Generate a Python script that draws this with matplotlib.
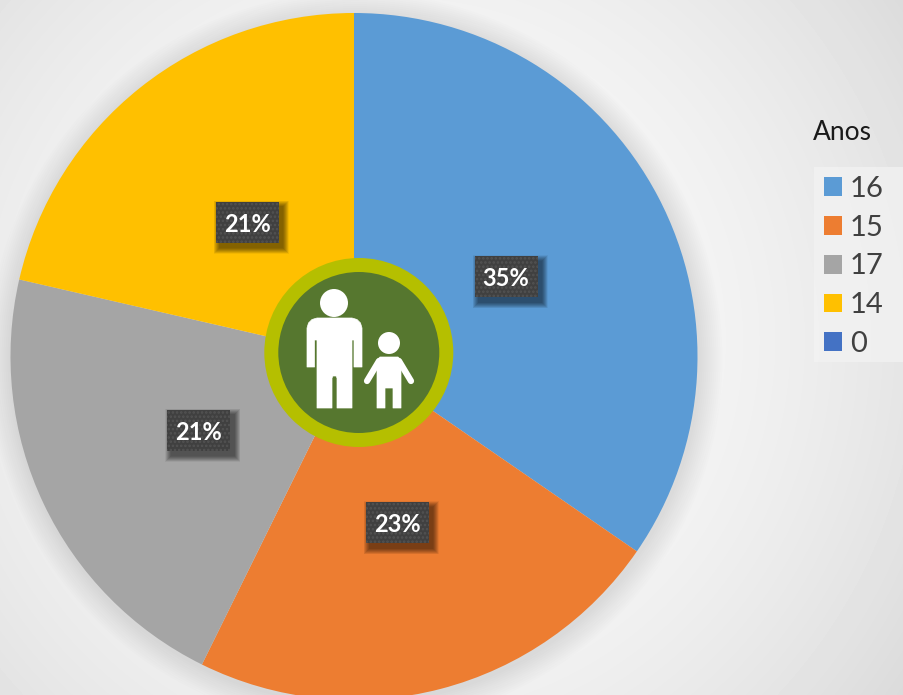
import numpy as np
import matplotlib.pyplot as plt
from matplotlib.patches import Circle, Rectangle, Polygon

plt.rcParams["font.family"] = ["Lato", "DejaVu Sans"]
plt.rcParams["hatch.linewidth"] = 1.2

# dados
anos = ["16", "15", "17", "14", "0"]
valores = [34.6, 22.7, 21.3, 21.4, 0]
cores = ["#5B9BD5", "#ED7D31", "#A5A5A5", "#FFC000", "#4472C4"]

W, H = 904, 695
fig = plt.figure(figsize=(W / 100, H / 100), dpi=100)
ax = fig.add_axes([0, 0, 1, 1])


def py(y):
    # coordenada de pixel (de cima pra baixo) -> eixo
    return H - y


# fundo cinza com gradiente radial
xx, yy = np.meshgrid(np.arange(W), np.arange(H))
dist = np.hypot(xx - 400, yy - 340) / 620
fundo = np.clip(0.985 - 0.13 * dist**2, 0, 1)
ax.imshow(fundo, cmap="gray", vmin=0, vmax=1, extent=(0, W, 0, H), aspect="auto", zorder=0)

# sombra da pizza
cx, cy, raio = 354, py(356.5), 343.5
for d in np.arange(24, 0, -2):
    ax.add_patch(Circle((cx + 1, cy - 3), raio + d, fc="black", ec="none", alpha=0.008, zorder=1))

wedges, _, pct = ax.pie(
    valores,
    colors=cores,
    center=(cx, cy),
    radius=raio,
    startangle=90,
    counterclock=False,
    frame=True,
    autopct=lambda p: f"{p:.0f}%" if p > 0 else "",
    pctdistance=0.5,
    wedgeprops={"zorder": 2},
)

# caixas dos rotulos
bw, bh = 63, 41
for t in pct:
    if not t.get_text():
        continue
    x, y = t.get_position()
    for d in range(12, 0, -1):
        ax.add_patch(Rectangle((x - bw / 2 + 4 - d / 2, y - bh / 2 - 5 - d / 2), bw + d, bh + d,
                               fc="black", ec="none", alpha=0.05, zorder=3))
    ax.add_patch(Rectangle((x - bw / 2, y - bh / 2), bw, bh, fc="#404040", ec="#535353", hatch="....", lw=0, zorder=4))
    t.set(color="white", fontsize=17, fontweight="bold", zorder=5)
    t.set_position((x, y - 2))

# circulo central
ax.add_patch(Circle((358.8, py(352.5)), 94.5, fc="#B5BF00", ec="none", zorder=6))
ax.add_patch(Circle((358.8, py(352.5)), 80.5, fc="#56772F", ec="none", zorder=7))


# icone adulto e crianca
def poly(pts):
    ax.add_patch(Polygon([(a, py(b)) for a, b in pts], fc="white", ec="white", lw=0.5, joinstyle="round", zorder=8))


ax.add_patch(Circle((334, py(303)), 14, fc="white", ec="none", zorder=8))
poly([(317, 318), (352, 318), (357, 319.5), (360.5, 323), (362, 328), (362, 367), (354, 367), (354, 340),
      (352, 340), (352, 408), (337, 408), (337, 378), (336, 376), (333, 376), (332, 378), (332, 408),
      (317, 408), (317, 340), (314.5, 340), (314.5, 367), (307, 367), (307, 328), (308.5, 323), (312, 319.5)])
ax.add_patch(Circle((389, py(343)), 11, fc="white", ec="none", zorder=8))
poly([(380, 357), (398, 357), (401, 360), (401, 408), (393, 408), (393, 388), (385, 388), (385, 408),
      (377, 408), (377, 360)])
ax.plot([379, 367], [py(361), py(381)], color="white", lw=4.5, solid_capstyle="round", zorder=8)
ax.plot([399, 411], [py(361), py(381)], color="white", lw=4.5, solid_capstyle="round", zorder=8)

# legenda
ax.add_patch(Rectangle((814, py(362)), 90, 195, fc="#F3F3F3", ec="none", alpha=0.7, zorder=8))
ax.text(813, py(133), "Anos", fontsize=19, color="#1a1a1a", va="center", ha="left", zorder=9)
leg = ax.legend(
    wedges,
    anos,
    loc="upper left",
    bbox_to_anchor=(815 / W, 1 - 167 / H),
    bbox_transform=fig.transFigure,
    frameon=False,
    fontsize=21,
    labelcolor="#404040",
    handlelength=0.62,
    handleheight=0.62,
    handletextpad=0.28,
    labelspacing=0.44,
    borderaxespad=0,
    borderpad=0.3,
)
leg.set_zorder(9)

ax.set_xlim(0, W)
ax.set_ylim(0, H)
ax.axis("off")

fig.savefig("out.png", dpi=100)
